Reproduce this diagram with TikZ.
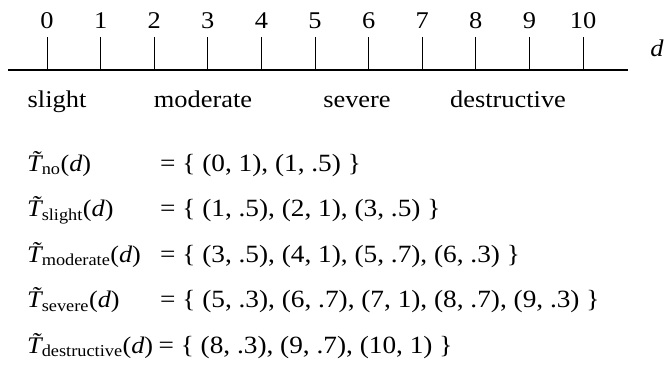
\documentclass[tikz,border=0pt]{standalone}
\usepackage{fontspec}
\setmainfont[FakeStretch=1.1]{Liberation Serif}
\newcommand{\Tt}[1]{{\itshape\~{T}}\textsubscript{#1}({\itshape d})}
\begin{document}
\begin{tikzpicture}[x=1pt,y=-1pt,
  txt/.style={inner sep=0pt,anchor=base,font=\fontsize{24}{27}\selectfont},
  lab/.style={inner sep=0pt,anchor=base west,font=\fontsize{23.8}{27}\selectfont},
  row/.style={inner sep=0pt,anchor=base west,font=\fontsize{24.8}{27}\selectfont},
  tick/.style={line width=0.9pt},
  axis/.style={line width=1.6pt}]
\useasboundingbox (0,0) rectangle (669,365);
\coordinate (axL) at (8,70);
\coordinate (axR) at (628,70);
\draw[axis] (axL) -- (axR);
\foreach \k in {0,...,10}{
  \node[txt] (n\k) at ({47+53.6*\k},28) {\k};
  \coordinate (t\k) at ({47+53.6*\k},37);
  \coordinate (b\k) at ({47+53.6*\k},70);
  \draw[tick] (t\k) -- (b\k);
}
\node[txt,anchor=center] (d) at (657,48) {\itshape d};
\node[txt] (slight) at (57,107) {slight};
\node[txt] (moderate) at (203,107) {moderate};
\node[txt] (severe) at (357,107) {severe};
\node[txt] (destructive) at (508,107) {destructive};
\node[lab] (l1) at (27,171) {\Tt{no}};
\node[row] (r1) at (160,171) {= \{ (0, 1), (1, .5) \}};
\node[lab] (l2) at (27,216.5) {\Tt{slight}};
\node[row] (r2) at (160,216.5) {= \{ (1, .5), (2, 1), (3, .5) \}};
\node[lab] (l3) at (27,262) {\Tt{moderate}};
\node[row] (r3) at (160,262) {= \{ (3, .5), (4, 1), (5, .7), (6, .3) \}};
\node[lab] (l4) at (27,307.5) {\Tt{severe}};
\node[row] (r4) at (160,307.5) {= \{ (5, .3), (6, .7), (7, 1), (8, .7), (9, .3) \}};
\node[lab] (l5) at (27,353) {\Tt{destructive}};
\node[row,anchor=base west] (r5) at ([xshift=5pt]l5.base east) {= \{ (8, .3), (9, .7), (10, 1) \}};
\end{tikzpicture}
\end{document}
